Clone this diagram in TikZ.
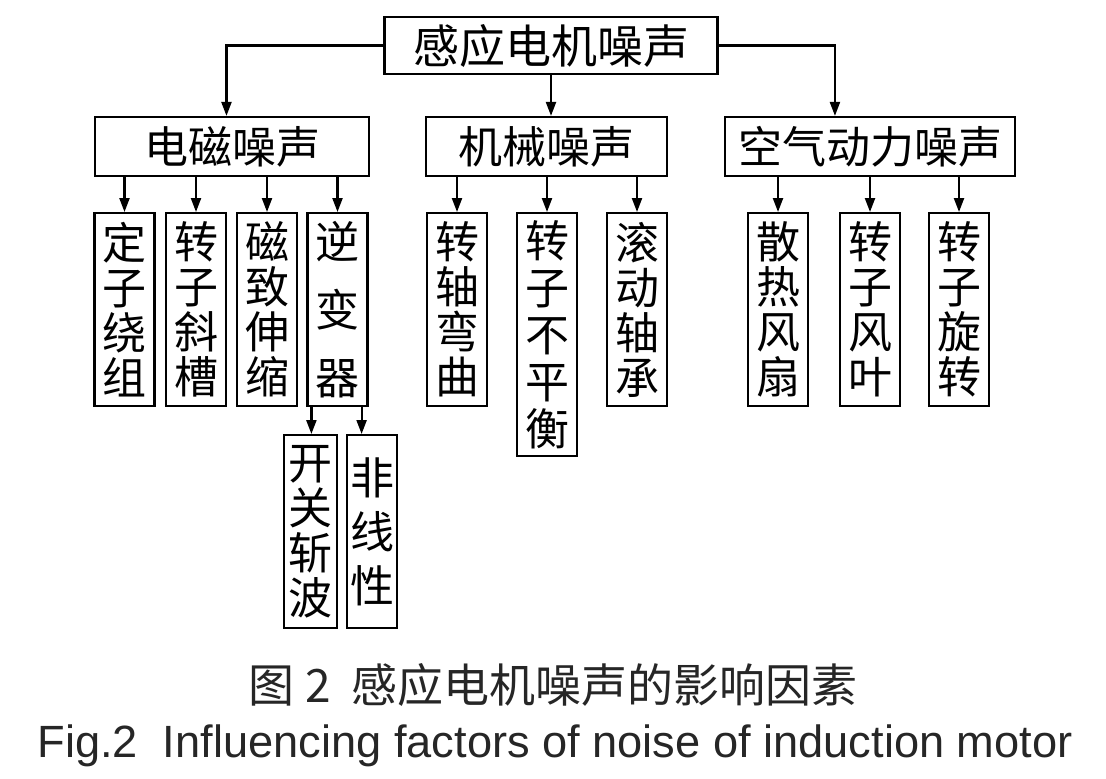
\documentclass[tikz,border=0pt]{standalone}
\usepackage{fontspec}
\setmainfont{Liberation Sans}
\newfontfamily\cjk{Noto Sans CJK SC}
\usetikzlibrary{arrows.meta,calc}

\begin{document}
\begin{tikzpicture}[x=0.5pt, y=-0.5pt, line width=1.1pt,
        >={Triangle[length=7pt,width=5pt]},
        box/.style={draw, inner sep=0pt, font=\cjk\fontsize{22}{22}\selectfont},
        leaf/.style={box, anchor=north, minimum width=30pt, minimum height=96.5pt,
        align=center, font=\cjk\fontsize{22}{22.5}\selectfont}]

        \useasboundingbox (0,0) rectangle (1106,778);

        % top level
        \node[box, minimum width=166.5pt, minimum height=28.5pt,
            font=\cjk\fontsize{23}{23}\selectfont] (root) at (551,45.5) {感应电机噪声};

        % second level
        \node[box, minimum width=137pt, minimum height=29.5pt] (em) at (232,146.5) {电磁噪声};
        \node[box, minimum width=120.5pt, minimum height=29.5pt] (mech) at (546.5,146.5) {机械噪声};
        \node[box, minimum width=145pt, minimum height=29.5pt] (air) at (870,146.5) {空气动力噪声};

        % electromagnetic
        \node[leaf] (stator) at (124.5,212) {定\\子\\绕\\组};
        \node[leaf] (skew) at (196,212) {转\\子\\斜\\槽};
        \node[leaf] (magneto) at (267,212) {磁\\致\\伸\\缩};
        \node[leaf, font=\cjk\fontsize{22}{34}\selectfont] (inv) at (337.5,212) {逆\\变\\器};
        \node[leaf, minimum width=26.5pt] (chop) at (310.5,434) {开\\关\\斩\\波};
        \node[leaf, minimum width=25pt, font=\cjk\fontsize{22}{27}\selectfont] (nonlin) at (372,434) {非\\线\\性};

        % mechanical
        \node[leaf] (shaft) at (457,212) {转\\轴\\弯\\曲};
        \node[leaf, minimum height=121.5pt, font=\cjk\fontsize{22}{23.5}\selectfont] (unbal) at (547,212) {转\\子\\不\\平\\衡};
        \node[leaf] (bearing) at (637,212) {滚\\动\\轴\\承};

        % aerodynamic
        \node[leaf] (fan) at (778,212) {散\\热\\风\\扇};
        \node[leaf] (blade) at (870,212) {转\\子\\风\\叶};
        \node[leaf] (rot) at (959,212) {转\\子\\旋\\转};

        % connectors
        \draw[->] (root.west) -| ($(em.north west)!0.48!(em.north east)$);
        \draw[->] (root.south) -- (root.south |- mech.north);
        \draw[->] (root.east) -| ($(air.north west)!0.38!(air.north east)$);
        \foreach \c in {stator,skew,magneto,inv}
            \draw[->] (\c.north |- em.south) -- (\c.north);
        \foreach \c in {shaft,unbal,bearing}
            \draw[->] (\c.north |- mech.south) -- (\c.north);
        \foreach \c in {fan,blade,rot}
            \draw[->] (\c.north |- air.south) -- (\c.north);
        \draw[->] ([xshift=2.5pt]inv.south west) -- ([xshift=2.5pt]inv.south west |- chop.north);
        \draw[->] ([xshift=-3.5pt]inv.south east) -- ([xshift=-3.5pt]inv.south east |- nonlin.north);

        % caption
        \node[font=\cjk\fontsize{23}{23}\selectfont, text=black!85] (capzh) at (553,685)
            {图 2\ \ 感应电机噪声的影响因素};
        \node[font=\fontsize{22.6}{22.6}\selectfont, text=black!85] (capen) at (555,746)
            {Fig.2\ \ Influencing factors of noise of induction motor};
    \end{tikzpicture}
\end{document}
